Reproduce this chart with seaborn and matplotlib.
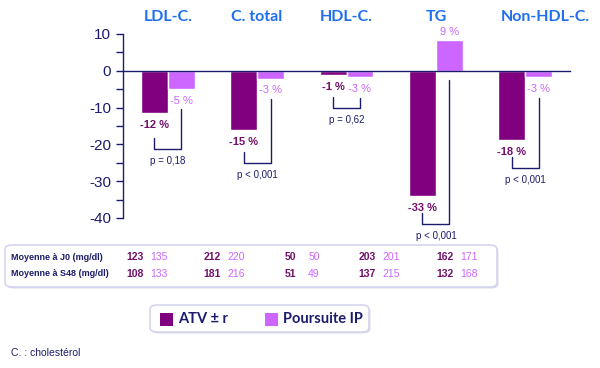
import numpy as np
import pandas as pd
import seaborn as sns
import matplotlib.pyplot as plt
from matplotlib.patches import FancyBboxPatch, Rectangle

# Data
categories = ["LDL-C.", "C. total", "HDL-C.", "TG", "Non-HDL-C."]
groups = ["ATV ± r", "Poursuite IP"]
atv = [-11.5, -16.2, -1.2, -34.0, -18.8]
ip = [-4.9, -2.1, -1.8, 8.4, -1.8]
atv_labels = ["-12 %", "-15 %", "-1 %", "-33 %", "-18 %"]
ip_labels = ["-5 %", "-3 %", "-3 %", "9 %", "-3 %"]
p_values = ["p = 0,18", "p < 0,001", "p = 0,62", "p < 0,001", "p < 0,001"]
bracket_bottom = [-21.2, -25.0, -10.1, -41.6, -26.4]

row_labels = ["Moyenne à J0 (mg/dl)", "Moyenne à S48 (mg/dl)"]
j0_atv = [123, 212, 50, 203, 162]
j0_ip = [135, 220, 50, 201, 171]
s48_atv = [108, 181, 51, 137, 132]
s48_ip = [133, 216, 49, 215, 168]

dark = "#800080"
light = "#cc66ff"
dark_txt = "#70106a"
navy = "#1c1c6e"
blue = "#1f6ff0"

sns.set_style("white")
plt.rcParams["font.family"] = ["Liberation Sans", "DejaVu Sans"]
plt.rcParams["axes.unicode_minus"] = False

df = pd.DataFrame({
    "cat": categories * 2,
    "grp": [groups[0]] * 5 + [groups[1]] * 5,
    "val": atv + ip,
})

W, H = 600, 368
fig = plt.figure(figsize=(6, 3.68), dpi=100)
ax = fig.add_axes([123 / W, 1 - 218 / H, 447 / W, 184 / H])

sns.barplot(data=df, x="cat", y="val", hue="grp", order=categories,
            hue_order=groups, palette=[dark, light], width=0.6,
            saturation=1, legend=False, ax=ax)

ax.set_xlim(-0.5, 4.5)
ax.set_ylim(-40, 10)
ax.set_xlabel("")
ax.set_ylabel("")
for s in ["top", "right"]:
    ax.spines[s].set_visible(False)
ax.spines["bottom"].set_position(("data", 0))
ax.spines["bottom"].set_color(navy)
ax.spines["left"].set_color(navy)
ax.spines["bottom"].set_linewidth(1.0)
ax.spines["left"].set_linewidth(1.0)
ax.set_xticks([0.5, 1.5, 2.5, 3.5, 4.5])
ax.set_xticklabels([])
ax.tick_params(axis="x", direction="inout", length=6, color=navy, width=1)
ax.set_yticks([-40, -30, -20, -10, 0, 10])
ax.set_yticks(np.arange(-35, 10, 10), minor=True)
ax.tick_params(axis="y", which="both", direction="out", length=5,
               color=navy, width=1, labelsize=11, labelcolor=navy, left=True)

# category titles (the last one sits a little to the right)
title_x = [0, 1, 2, 3, 4.22]
xt = ax.get_xaxis_transform()
for x, c in zip(title_x, categories):
    ax.text(x, 1.092, c, transform=xt, ha="center", va="center",
            fontsize=11.5, fontweight="bold", color=blue, family="Lato")

off = 0.15
for i in range(5):
    xd, xl = i - off, i + off
    yd = atv[i] - 3.2
    ax.text(xd, yd, atv_labels[i], ha="center", va="center", fontsize=8,
            fontweight="bold", color=dark_txt, clip_on=False)
    if ip[i] >= 0:
        yl = ip[i] + 2.2
        top_r = -2.4
    else:
        yl = ip[i] - 3.2
        top_r = yl - 2.4
    ax.text(xl, yl, ip_labels[i], ha="center", va="center", fontsize=8,
            color=light, clip_on=False)
    b = bracket_bottom[i]
    ax.plot([xd, xd, xl, xl], [b + 2.9, b, b, top_r], color=navy, lw=1,
            clip_on=False)
    ax.text(i, b - 3.2, p_values[i], ha="center", va="center", fontsize=7,
            color=navy, clip_on=False)


def px(x, y):
    return x / W, 1 - y / H


def rounded_box(x, y, w, h):
    shadow = FancyBboxPatch(px(x + 1.5, y + h + 1.5), w / W, h / H,
                            transform=fig.transFigure,
                            boxstyle="round,pad=0,rounding_size=0.012",
                            facecolor="#dcdce6", edgecolor="none", zorder=0)
    box = FancyBboxPatch(px(x, y + h), w / W, h / H, transform=fig.transFigure,
                         boxstyle="round,pad=0,rounding_size=0.012",
                         facecolor="white", edgecolor="#d4d4f0", lw=1.2,
                         zorder=1)
    fig.patches.extend([shadow, box])


# value table
rounded_box(5, 245, 492, 42)
rows = [(257, j0_atv, j0_ip), (274, s48_atv, s48_ip)]
for (ypx, a, b), lab in zip(rows, row_labels):
    fig.text(*px(11, ypx), lab, ha="left", va="center", fontsize=6.5,
             fontweight="bold", color=navy)
    for i in range(5):
        x0 = 135 + 77.5 * i
        fig.text(*px(x0, ypx), str(a[i]), ha="center", va="center",
                 fontsize=7.5, fontweight="bold", color=dark_txt)
        fig.text(*px(x0 + 24, ypx), str(b[i]), ha="center", va="center",
                 fontsize=7.5, color=light)

# legend box
rounded_box(150, 305, 219, 27)
for (xs, col, lab) in [(160, dark, groups[0]), (265, light, groups[1])]:
    fig.patches.append(Rectangle(px(xs, 326), 13 / W, 13 / H,
                                 transform=fig.transFigure, facecolor=col,
                                 edgecolor="none", zorder=2))
    fig.text(*px(xs + 18, 319), lab, ha="left", va="center", fontsize=10.5,
             fontweight="bold", color=navy, family="Lato", zorder=3)

fig.text(*px(11, 353), "C. : cholestérol", ha="left", va="center",
         fontsize=7.5, color=navy)

fig.savefig("out.png", dpi=100)
